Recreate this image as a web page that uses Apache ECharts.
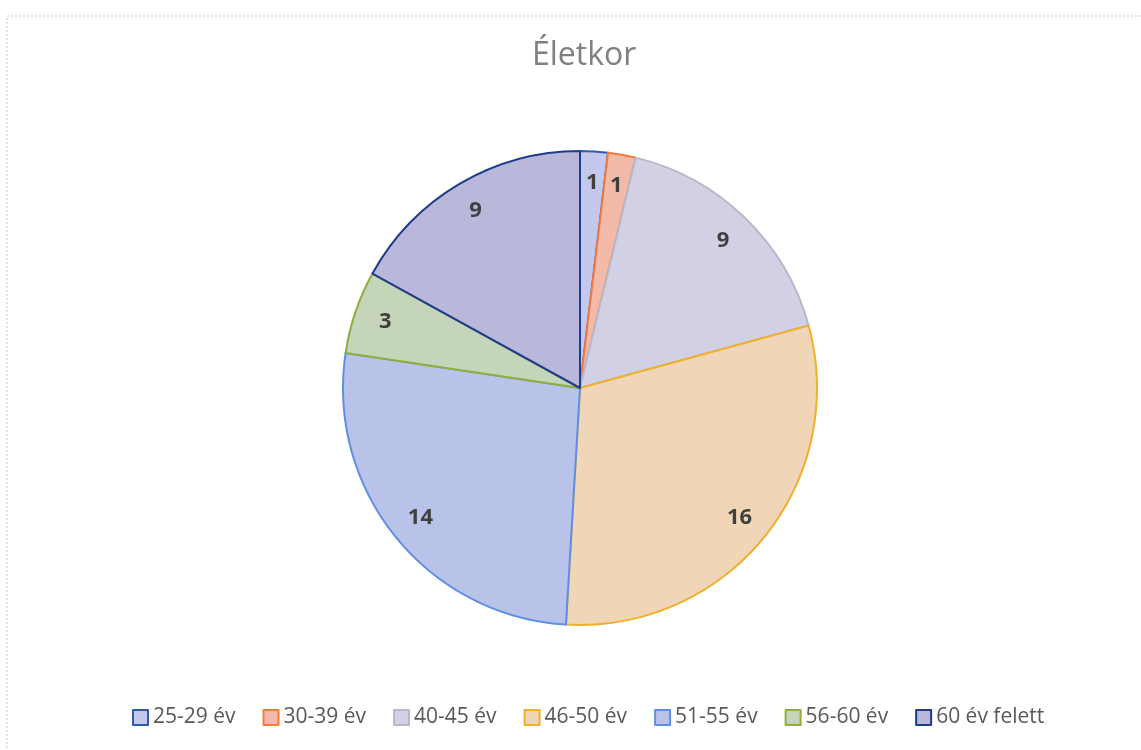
<!DOCTYPE html>
<html><head><meta charset="utf-8">
<script src="https://cdn.jsdelivr.net/npm/echarts@6/dist/echarts.min.js"></script>
<style>html,body{margin:0;padding:0;background:#fff}#c{width:1141px;height:750px}</style>
</head><body><div id="c"></div>
<script>
const categories = ['25-29 év','30-39 év','40-45 év','46-50 év','51-55 év','56-60 év','60 év felett'];
const values = [1,1,9,16,14,3,9];
const fillColors = ['#c4c8ec','#f3b9a9','#d2d0e4','#f0d5b6','#b9c3e9','#c4d5b9','#b9b7da'];
const borderColors = ['#2f5aa8','#f07c3c','#b8b8ca','#efb02c','#5e8fe0','#8fae3a','#1f3c88'];

const chart = echarts.init(document.getElementById('c'));
const pieData = categories.map((n,i)=>({name:n,value:values[i],
  itemStyle:{color:fillColors[i],borderColor:borderColors[i],borderWidth:2}}));
const labelData = categories.map((n,i)=>({name:n,value:values[i]}));
chart.setOption({
  animation:false,
  backgroundColor:'#fff',
  title:{text:'Életkor',left:527,top:35,textStyle:{fontFamily:'Open Sans',fontSize:32,fontWeight:'normal',color:'#808080'}},
  legend:{top:702,left:127,itemWidth:15,itemHeight:15,itemGap:27,icon:'rect',
    textStyle:{fontFamily:'Open Sans',fontSize:21,color:'#595959'},
    data:categories},
  graphic:[{type:'rect',shape:{x:7,y:16,width:1140,height:740},
    style:{fill:'none',stroke:'#c8c8c8',lineWidth:1,lineDash:[2,2]},silent:true,z:-1}],
  series:[
    {type:'pie',center:[580,388],radius:[0,237],startAngle:90,clockwise:true,
     label:{show:false},labelLine:{show:false},data:pieData,silent:true},
    {type:'pie',center:[580,388],radius:[168,237],startAngle:90,clockwise:true,silent:true,
     itemStyle:{color:'rgba(0,0,0,0)',borderWidth:0},
     label:{show:true,position:'inside',formatter:'{c}',fontFamily:'Open Sans',fontSize:22,fontWeight:'bold',color:'#404040'},
     labelLine:{show:false},data:labelData,legendHoverLink:false}
  ]
});
</script></body></html>
